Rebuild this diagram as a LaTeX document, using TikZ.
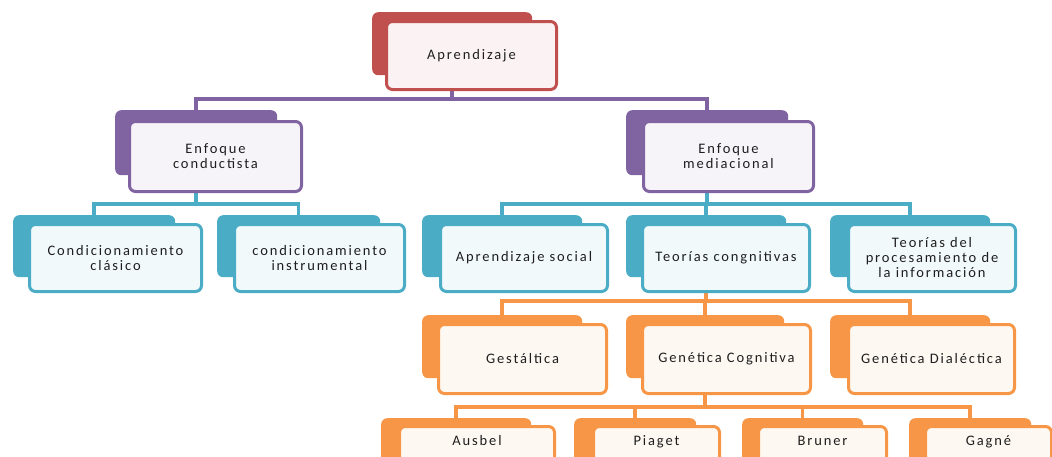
\documentclass[tikz,border=0pt]{standalone}
\usepackage{fontspec}
\newfontfamily\lbl{Carlito}[LetterSpace=13]
\usetikzlibrary{backgrounds}
\definecolor{cred}{HTML}{C0504D}
\definecolor{cpur}{HTML}{8064A2}
\definecolor{cteal}{HTML}{4BACC6}
\definecolor{corg}{HTML}{F79646}
\definecolor{txt}{HTML}{1E1E1E}
\tikzset{
  bk/.style={fill=#1, draw=none, rounded corners=6pt, anchor=north west, inner sep=0pt},
  fr/.style={fill=#1!7!white, draw=#1, line width=3pt, rounded corners=6pt, anchor=north west,
    align=center, inner sep=2pt, text=txt, font=\lbl\fontsize{14.5}{15}\selectfont},
  conn/.style={draw=#1, line width=3.5pt},
  lowtext/.style={text height=9pt, text depth=33pt}
}
\begin{document}
\begin{tikzpicture}[x=1pt,y=-1pt]
\useasboundingbox (0,0) rectangle (1052,456);
\clip (0,0) rectangle (1052,456);
% row 1
\node[bk=cred, minimum width=160pt, minimum height=63pt] (apB) at (372,12) {};
\node[fr=cred, minimum width=170pt, minimum height=68pt] (ap) at (385,20) {Aprendizaje};
% row 2
\node[bk=cpur, minimum width=162pt, minimum height=65pt] (ecB) at (115,110) {};
\node[fr=cpur, minimum width=172pt, minimum height=70pt] (ec) at (128,120) {Enfoque\\conductista};
\node[bk=cpur, minimum width=162pt, minimum height=65pt] (emB) at (626,110) {};
\node[fr=cpur, minimum width=170pt, minimum height=70pt] (em) at (642,120) {Enfoque\\mediacional};
% row 3
\node[bk=cteal, minimum width=162pt, minimum height=62pt] (ccB) at (13,215) {};
\node[fr=cteal, minimum width=172pt, minimum height=67pt] (cc) at (28,223) {Condicionamiento\\clásico};
\node[bk=cteal, minimum width=163pt, minimum height=62pt] (ciB) at (217,215) {};
\node[fr=cteal, minimum width=170pt, minimum height=67pt] (ci) at (233,223) {condicionamiento\\instrumental};
\node[bk=cteal, minimum width=160pt, minimum height=62pt] (asB) at (422,215) {};
\node[fr=cteal, minimum width=167pt, minimum height=67pt] (as) at (439,223) {Aprendizaje social};
\node[bk=cteal, minimum width=160pt, minimum height=62pt] (tcB) at (626,215) {};
\node[fr=cteal, minimum width=167pt, minimum height=67pt] (tc) at (641,223) {Teorías congnitivas};
\node[bk=cteal, minimum width=160pt, minimum height=62pt] (tpB) at (830,215) {};
\node[fr=cteal, minimum width=167pt, minimum height=67pt] (tp) at (847,223) {Teorías del\\procesamiento de\\la información};
% row 4
\node[bk=corg, minimum width=160pt, minimum height=63pt] (geB) at (422,315) {};
\node[fr=corg, minimum width=168pt, minimum height=69pt] (ge) at (437,323) {Gestáltica};
\node[bk=corg, minimum width=158pt, minimum height=63pt] (gcB) at (626,315) {};
\node[fr=corg, minimum width=168pt, minimum height=69pt] (gc) at (641,323) {Genética Cognitiva};
\node[bk=corg, minimum width=160pt, minimum height=63pt] (gdB) at (830,315) {};
\node[fr=corg, minimum width=166pt, minimum height=69pt] (gd) at (847,323) {Genética Dialéctica};
% row 5
\node[bk=corg, minimum width=150pt, minimum height=63pt] (auB) at (381,418) {};
\node[fr=corg, lowtext, minimum width=155pt, minimum height=62pt] (au) at (398,425) {Ausbel};
\node[bk=corg, minimum width=122pt, minimum height=63pt] (piB) at (574,418) {};
\node[fr=corg, lowtext, minimum width=126pt, minimum height=62pt] (pi) at (592,425) {Piaget};
\node[bk=corg, minimum width=121pt, minimum height=63pt] (brB) at (742,418) {};
\node[fr=corg, lowtext, minimum width=128pt, minimum height=62pt] (br) at (757,425) {Bruner};
\node[bk=corg, minimum width=122pt, minimum height=63pt] (gaB) at (909,418) {};
\node[fr=corg, lowtext, minimum width=126pt, minimum height=62pt] (ga) at (924,425) {Gagné};
% buses
\coordinate (b1) at (0,99);
\coordinate (b2) at (0,204);
\coordinate (b3) at (0,301);
\coordinate (b4) at (0,407);
\begin{pgfonlayer}{background}
\draw[conn=cpur] (apB |- ap.south) -- (apB |- b1);
\draw[conn=cpur] (ecB.north) -- (ecB |- b1) -- (emB |- b1) -- (emB.north);
\draw[conn=cteal] (ecB |- ec.south) -- (ecB |- b2);
\draw[conn=cteal] (ccB.north) -- (ccB |- b2) -- (ciB |- b2) -- (ciB.north);
\draw[conn=cteal] (emB |- em.south) -- (emB |- b2);
\draw[conn=cteal] (asB.north) -- (asB |- b2) -- (tpB |- b2) -- (tpB.north);
\draw[conn=cteal] (tcB |- b2) -- (tcB.north);
\draw[conn=corg] (tcB |- tc.south) -- (tcB |- b3);
\draw[conn=corg] (geB.north) -- (geB |- b3) -- (gdB |- b3) -- (gdB.north);
\draw[conn=corg] (gcB |- b3) -- (gcB.north);
\draw[conn=corg] (gcB |- gc.south) -- (gcB |- b4);
\draw[conn=corg] (auB.north) -- (auB |- b4) -- (gaB |- b4) -- (gaB.north);
\draw[conn=corg] (piB |- b4) -- (piB.north);
\draw[conn=corg] (brB |- b4) -- (brB.north);
\end{pgfonlayer}
\end{tikzpicture}
\end{document}
